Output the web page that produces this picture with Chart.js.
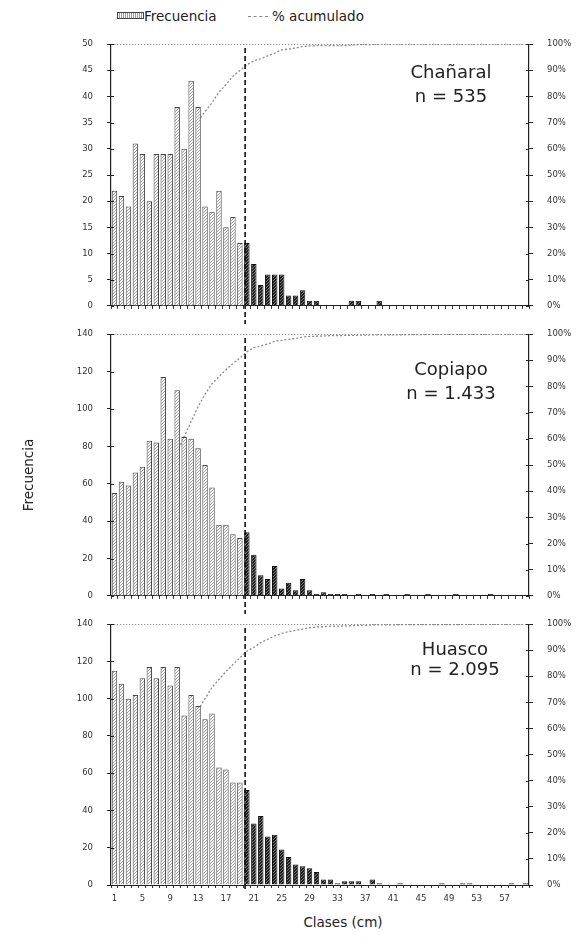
<!DOCTYPE html>
<html lang="es">
<head>
<meta charset="UTF-8">
<title>Frecuencia por clases de talla</title>
<script src="https://cdn.jsdelivr.net/npm/chart.js"></script>
<style>
  body { margin: 0; background: #fff; font-family: "DejaVu Sans", sans-serif; color: #222; }
  #page { position: relative; width: 581px; height: 949px; overflow: hidden; }
  canvas.panel { position: absolute; left: 0; }
  .txt { position: absolute; white-space: nowrap; }
  .legend { font-size: 13.5px; line-height: 16px; top: 8px; }
  .box { position: absolute; left: 117px; top: 12px; width: 25px; height: 5px; border: 1px solid #444;
         background: repeating-linear-gradient(90deg, #fff 0 1px, #999 1px 2px); }
  .dash { position: absolute; left: 248px; top: 16px; width: 20px; border-top: 1.3px dashed #888; }
  .place { font-size: 18px; line-height: 24px; text-align: center; width: 130px; }
  .axtitle { font-size: 13.5px; line-height: 16px; }
</style>
</head>
<body>
<div id="page">
  <div class="box"></div>
  <div class="txt legend" style="left:144px">Frecuencia</div>
  <div class="dash"></div>
  <div class="txt legend" style="left:272px">% acumulado</div>

  <canvas class="panel" id="p1" width="581" height="300" style="top:25px"></canvas>
  <canvas class="panel" id="p2" width="581" height="300" style="top:315px"></canvas>
  <canvas class="panel" id="p3" width="581" height="305" style="top:605px"></canvas>

  <div class="txt place" style="left:386px; top:60px">Chañaral<br>n = 535</div>
  <div class="txt place" style="left:386px; top:357px">Copiapo<br>n = 1.433</div>
  <div class="txt place" style="left:390px; top:639px; line-height:20px">Huasco<br>n = 2.095</div>

  <div class="txt axtitle" style="left:-12px; top:467px; width:80px; text-align:center; transform:rotate(-90deg)">Frecuencia</div>
  <div class="txt axtitle" style="left:303px; top:914px; width:80px; text-align:center">Clases (cm)</div>
</div>
<script>
// clases de talla (cm)
const classes = [1, 2, 3, 4, 5, 6, 7, 8, 9, 10, 11, 12, 13, 14, 15, 16, 17, 18, 19, 20,
                 21, 22, 23, 24, 25, 26, 27, 28, 29, 30, 31, 32, 33, 34, 35, 36, 37, 38, 39, 40,
                 41, 42, 43, 44, 45, 46, 47, 48, 49, 50, 51, 52, 53, 54, 55, 56, 57, 58, 59, 60];
const legalSize = 20;   // first class drawn dark, dashed line just before it

// Chañaral, n = 535
const frecChanaral = [22, 21, 19, 31, 29, 20, 29, 29, 29, 38, 30, 43, 38, 19, 18, 22, 15, 17, 12, 12,
                      8, 4, 6, 6, 6, 2, 2, 3, 1, 1, 0, 0, 0, 0, 1, 1, 0, 0, 1, 0,
                      0, 0, 0, 0, 0, 0, 0, 0, 0, 0, 0, 0, 0, 0, 0, 0, 0, 0, 0, 0];
const acumChanaral = [4.1, 8.0, 11.6, 17.4, 22.8, 26.5, 32.0, 37.4, 42.8, 49.9, 55.5, 63.6, 70.7, 74.2, 77.6, 81.7, 84.5, 87.7, 89.9, 92.1,
                      93.6, 94.4, 95.5, 96.6, 97.8, 98.1, 98.5, 99.1, 99.3, 99.4, 99.4, 99.4, 99.4, 99.4, 99.6, 99.8, 99.8, 99.8, 100, 100,
                      100, 100, 100, 100, 100, 100, 100, 100, 100, 100, 100, 100, 100, 100, 100, 100, 100, 100, 100, 100];

// Copiapo, n = 1.433
const frecCopiapo = [55, 61, 59, 66, 69, 83, 82, 117, 84, 110, 85, 84, 79, 70, 58, 38, 38, 33, 31, 34,
                     22, 11, 9, 16, 4, 7, 3, 9, 3, 1, 2, 1, 1, 1, 0, 1, 0, 1, 0, 1,
                     0, 0, 1, 0, 0, 1, 0, 0, 0, 1, 0, 0, 0, 0, 1, 0, 0, 0, 0, 0];
const acumCopiapo = [3.8, 8.1, 12.2, 16.8, 21.6, 27.4, 33.1, 41.3, 47.2, 54.9, 60.8, 66.6, 72.2, 77.0, 81.1, 83.7, 86.4, 88.7, 90.9, 93.2,
                     94.8, 95.5, 96.2, 97.3, 97.6, 98.0, 98.3, 98.9, 99.1, 99.2, 99.3, 99.4, 99.4, 99.5, 99.5, 99.6, 99.6, 99.7, 99.7, 99.7,
                     99.7, 99.7, 99.8, 99.8, 99.8, 99.9, 99.9, 99.9, 99.9, 99.9, 99.9, 99.9, 99.9, 99.9, 100, 100, 100, 100, 100, 100];

// Huasco, n = 2.095
const frecHuasco = [115, 108, 100, 102, 111, 117, 111, 117, 107, 117, 91, 102, 96, 89, 92, 63, 62, 55, 55, 51,
                    33, 37, 26, 27, 19, 15, 11, 10, 9, 7, 3, 3, 1, 2, 2, 2, 0, 3, 1, 0,
                    0, 1, 0, 0, 0, 0, 0, 1, 0, 0, 1, 1, 0, 0, 0, 0, 0, 1, 0, 1];
const acumHuasco = [5.5, 10.7, 15.5, 20.5, 25.8, 31.4, 36.8, 42.4, 47.5, 53.2, 57.6, 62.5, 67.1, 71.4, 75.8, 78.8, 81.8, 84.5, 87.1, 89.6,
                    91.1, 92.9, 94.2, 95.5, 96.4, 97.1, 97.6, 98.1, 98.6, 98.9, 99.0, 99.2, 99.2, 99.3, 99.4, 99.5, 99.5, 99.7, 99.7, 99.7,
                    99.7, 99.8, 99.8, 99.8, 99.8, 99.8, 99.8, 99.8, 99.8, 99.8, 99.9, 99.9, 99.9, 99.9, 99.9, 99.9, 99.9, 100, 100, 100];

function makePattern(bg, fg) {
    const c = document.createElement('canvas');
    c.width = 3; c.height = 3;
    const g = c.getContext('2d');
    g.fillStyle = bg; g.fillRect(0, 0, 3, 3);
    g.fillStyle = fg;
    g.fillRect(0, 0, 1, 1); g.fillRect(2, 1, 1, 1); g.fillRect(1, 2, 1, 1);
    return g.createPattern(c, 'repeat');
}
const lightFill = makePattern('#ffffff', '#9a9a9a');
const darkFill = makePattern('#1c1c1c', '#7a7a7a');

const tickFont = { family: 'DejaVu Sans', size: 8.5 };
const cutIndex = classes.indexOf(legalSize);

// dashed line at the legal size and small ticks crossing into the plot
const extras = {
    id: 'extras',
    afterDatasetsDraw(chart, args, opts) {
        const { ctx, chartArea, scales } = chart;
        ctx.save();
        ctx.strokeStyle = '#222';
        ctx.lineWidth = 1;
        ['y', 'y1'].forEach(id => {
            const s = scales[id];
            const x0 = id === 'y' ? chartArea.left : chartArea.right;
            const dir = id === 'y' ? 1 : -1;
            s.ticks.forEach(t => {
                const y = Math.round(s.getPixelForValue(t.value)) + 0.5;
                ctx.beginPath();
                ctx.moveTo(x0, y);
                ctx.lineTo(x0 + dir * 3, y);
                ctx.stroke();
            });
        });
        const x = scales.x.getPixelForValue(cutIndex - 0.25);
        ctx.lineWidth = 1.6;
        ctx.strokeStyle = '#111';
        ctx.setLineDash([5, 3]);
        ctx.beginPath();
        ctx.moveTo(x, chartArea.top + 4);
        ctx.lineTo(x, chartArea.bottom + opts.below);
        ctx.stroke();
        ctx.restore();
    }
};

function makePanel(id, frec, acum, yMax, yStep, showLabels, xHeight, below) {
    // the cumulative line sits behind the bars, so hide it in the narrow gaps between tall bars
    const hidden = c => {
        const y = c.chart.scales.y;
        return y.getPixelForValue(frec[c.p0DataIndex]) < c.p0.y - 1 &&
               y.getPixelForValue(frec[c.p1DataIndex]) < c.p1.y - 1;
    };
    new Chart(document.getElementById(id), {
        data: {
            labels: classes,
            datasets: [{
                type: 'bar',
                label: 'Frecuencia',
                data: frec,
                yAxisID: 'y',
                order: 1,
                backgroundColor: c => c.dataIndex >= cutIndex ? darkFill : lightFill,
                borderColor: c => c.dataIndex >= cutIndex ? '#111' : '#444',
                borderWidth: 1,
                barPercentage: 0.78,
                categoryPercentage: 1
            }, {
                type: 'line',
                label: '% acumulado',
                data: acum,
                yAxisID: 'y1',
                order: 2,
                borderColor: '#8a8a8a',
                borderWidth: 1.3,
                borderDash: [2, 2],
                pointRadius: 0,
                tension: 0,
                segment: { borderColor: c => hidden(c) ? 'rgba(0,0,0,0)' : undefined }
            }]
        },
        options: {
            responsive: false,
            animation: false,
            layout: { padding: { top: 10, left: 0, right: 0, bottom: 0 }, autoPadding: false },
            plugins: {
                legend: { display: false },
                tooltip: { enabled: false },
                extras: { below: below }
            },
            scales: {
                x: {
                    offset: true,
                    grid: { drawOnChartArea: false, color: '#333', tickColor: '#333', tickLength: 3 },
                    border: { color: '#222', width: 1 },
                    ticks: {
                        display: showLabels,
                        autoSkip: false,
                        maxRotation: 0,
                        padding: 6,
                        color: '#333',
                        font: tickFont,
                        callback: (v, i) => i % 4 === 0 ? classes[i] : ''
                    },
                    afterFit: s => { s.height = xHeight; }
                },
                y: {
                    position: 'left',
                    min: 0, max: yMax,
                    ticks: { stepSize: yStep, padding: 14, color: '#333', font: tickFont },
                    grid: {
                        color: c => c.tick && c.tick.value === yMax ? '#777' : 'rgba(0,0,0,0)',
                        tickColor: '#222', tickLength: 4
                    },
                    border: { color: '#222', width: 1.2, dash: [1, 2] },
                    afterFit: s => { s.width = 111; }
                },
                y1: {
                    position: 'right',
                    min: 0, max: 100,
                    ticks: { stepSize: 10, padding: 14, color: '#333', font: tickFont, callback: v => v + '%' },
                    grid: { drawOnChartArea: false, tickColor: '#222', tickLength: 4 },
                    border: { color: '#222', width: 1.2 },
                    afterFit: s => { s.width = 52; }
                }
            }
        },
        plugins: [extras]
    });
}

makePanel('p1', frecChanaral, acumChanaral, 50, 5, false, 18, 18);
makePanel('p2', frecCopiapo, acumCopiapo, 140, 20, false, 18, 18);
makePanel('p3', frecHuasco, acumHuasco, 140, 20, true, 25, 6);
</script>
</body>
</html>
